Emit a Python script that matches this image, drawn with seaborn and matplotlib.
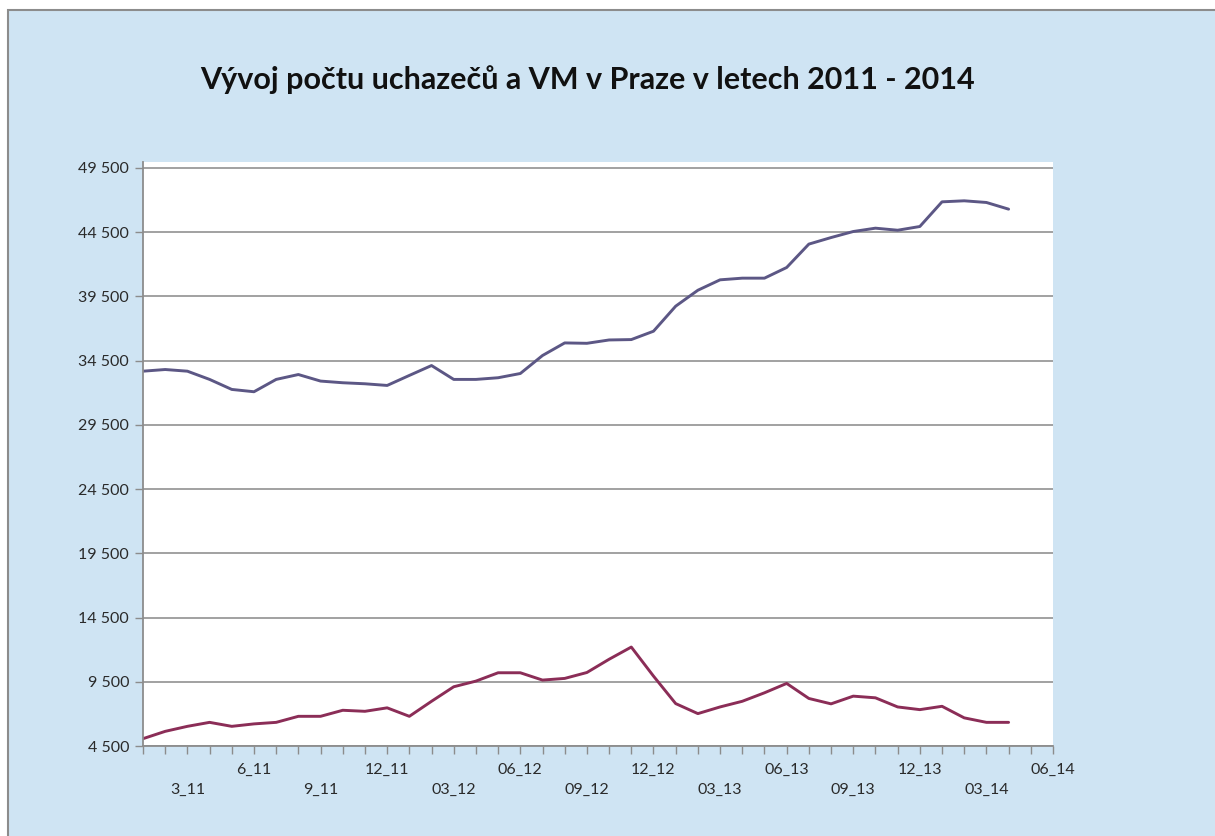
import numpy as np
import pandas as pd
import seaborn as sns
import matplotlib.pyplot as plt
from matplotlib.ticker import FuncFormatter
from matplotlib.patches import Rectangle

# Months Jan 2011 .. Jun 2014 (axis categories); data runs to Apr 2014
months = [f"{m}_{y}" for y in (11, 12, 13, 14) for m in range(1, 13)][:42]
tick_labels = ["3_11", "6_11", "9_11", "12_11", "03_12", "06_12", "09_12",
               "12_12", "03_13", "06_13", "09_13", "12_13", "03_14", "06_14"]

uchazeci = [33670, 33800, 33670, 33030, 32250, 32070, 33030, 33410, 32900, 32770,
            32690, 32560, 33340, 34110, 33030, 33030, 33160, 33490, 34890, 35870,
            35840, 36100, 36130, 36780, 38730, 39970, 40780, 40910, 40910, 41740,
            43560, 44070, 44540, 44800, 44640, 44930, 46850, 46930, 46800, 46280]
volna_mista = [5070, 5640, 6030, 6340, 6030, 6220, 6340, 6810, 6810, 7280,
               7200, 7470, 6810, 7980, 9110, 9550, 10200, 10200, 9630, 9760,
               10220, 11250, 12200, 9940, 7800, 7020, 7540, 7980, 8640, 9370,
               8200, 7780, 8380, 8250, 7540, 7330, 7590, 6690, 6340, 6340]

df = pd.DataFrame({
    "idx": np.arange(len(uchazeci)),
    "uchazeci": uchazeci,
    "vm": volna_mista,
})

sns.set_theme(style="white")
plt.rcParams["font.family"] = ["Lato", "DejaVu Sans"]

bg = "#cfe4f3"
fig = plt.figure(figsize=(12.15, 8.36), dpi=100)
fig.patch.set_facecolor("white")
# chart area frame (only left and top edges visible)
fig.patches.append(Rectangle((8 / 1215, -0.1), 1.2, 1.1 - 10 / 836,
                             transform=fig.transFigure, facecolor=bg,
                             edgecolor="#8c8c8c", linewidth=1.5, zorder=-10))

ax = fig.add_axes([143 / 1215, (836 - 746) / 836, (1053 - 143) / 1215, (746 - 162) / 836])
ax.set_zorder(5)
ax.set_facecolor("white")

sns.lineplot(data=df, x="idx", y="uchazeci", ax=ax, color="#5c5785", linewidth=2.1)
sns.lineplot(data=df, x="idx", y="vm", ax=ax, color="#8b2d57", linewidth=2.1)

ax.set_xlim(0, len(months) - 1)
ax.set_ylim(4500, 49950)
ax.set_yticks(np.arange(4500, 49501, 5000))
ax.yaxis.set_major_formatter(FuncFormatter(lambda v, p: f"{int(v):,}".replace(",", " ")))
ax.grid(axis="y", color="#9a9a9a", linewidth=1.3)
ax.set_axisbelow(True)

# staggered labels every third month
ax.set_xticks(np.arange(len(months)))
labels = []
k = 0
for i, m in enumerate(months):
    if i % 3 == 2:
        lab = tick_labels[k]
        labels.append(lab if k % 2 == 1 else "\n" + lab)
        k += 1
    else:
        labels.append("")
ax.set_xticklabels(labels, linespacing=1.55)

for s in ["top", "right"]:
    ax.spines[s].set_visible(False)
for s in ["left", "bottom"]:
    ax.spines[s].set_color("#8c8c8c")
    ax.spines[s].set_linewidth(1.3)

ax.tick_params(axis="both", which="major", direction="out", length=6, width=1,
               color="#8c8c8c", labelsize=11.5, labelcolor="#2a2a2a",
               left=True, bottom=True)
ax.tick_params(axis="x", pad=6)
ax.tick_params(axis="y", pad=4)
ax.set_xlabel("")
ax.set_ylabel("")

fig.text(588 / 1215, 1 - 80 / 836, "Vývoj počtu uchazečů a VM v Praze v letech 2011 - 2014",
         ha="center", va="center", fontsize=22, fontweight="bold", color="#111111")

fig.savefig("out.png", dpi=100, facecolor=fig.get_facecolor())
